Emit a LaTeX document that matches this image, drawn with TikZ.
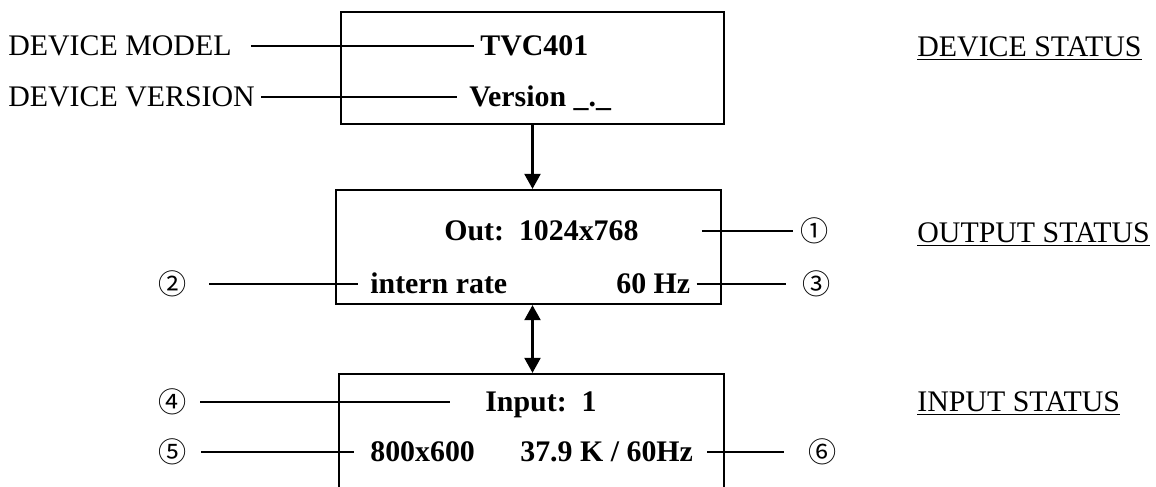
\documentclass[tikz,border=0pt]{standalone}
\usepackage{fontspec}
\setmainfont{Liberation Serif}
\newfontfamily\circfont{Noto Sans CJK SC}
\usetikzlibrary{arrows.meta}

\begin{document}
\begin{tikzpicture}[every node/.style={font=\fontsize{17}{20}\selectfont},
    bx/.style={draw, line width=1.3pt, minimum width=7.7cm},
    lbl/.style={anchor=west, inner sep=0.12cm, text height=0.39cm, text depth=0pt},
    val/.style={lbl, font=\fontsize{17}{20}\selectfont\bfseries},
    num/.style={font=\circfont\fontsize{16}{20}\selectfont, inner sep=0pt},
    ln/.style={line width=1.3pt},
    ar/.style={-{Triangle[length=0.3cm,width=0.32cm]}, line width=1.3pt},
    dar/.style={{Triangle[length=0.3cm,width=0.32cm]}-{Triangle[length=0.3cm,width=0.32cm]}, line width=1.3pt}]
  \useasboundingbox (0,0) rectangle (23.12,-9.72);
  \clip (0,0) rectangle (23.12,-9.72);
  % status boxes
  \node[bx, minimum width=7.66cm, minimum height=2.24cm] (devbox) at (10.65,-1.36) {};
  \node[bx, minimum height=2.28cm] (outbox) at (10.57,-4.94) {};
  \node[bx, minimum height=3.32cm] (inbox) at (10.63,-9.14) {};
  % texts
  \node[lbl] (lmodel) at (0.04,-0.92) {DEVICE MODEL};
  \node[lbl] (lver) at (0.04,-1.94) {DEVICE VERSION};
  \node[val] (model) at (9.48,-0.92) {TVC401};
  \node[val] (ver) at (9.26,-1.94) {Version \_.\_};
  \node[val] (out) at (8.76,-4.62) {Out:\ \ 1024x768};
  \node[val] (rate) at (7.28,-5.68) {intern rate};
  \node[val] (hz) at (12.2,-5.68) {60 Hz};
  \node[val] (inp) at (9.58,-8.04) {Input:\ \ 1};
  \node[val] (res) at (7.28,-9.04) {800x600};
  \node[val] (freq) at (10.28,-9.04) {37.9 K / 60Hz};
  \node[lbl] (sdev) at (18.22,-0.94) {\underline{DEVICE STATUS}};
  \node[lbl] (sout) at (18.22,-4.66) {\underline{OUTPUT STATUS}};
  \node[lbl] (sinp) at (18.22,-8.04) {\underline{INPUT STATUS}};
  % circled numbers
  \node[num] (n1) at (16.30,-4.62) {①};
  \node[num] (n2) at (3.46,-5.68) {②};
  \node[num] (n3) at (16.34,-5.68) {③};
  \node[num] (n4) at (3.46,-8.04) {④};
  \node[num] (n5) at (3.46,-9.04) {⑤};
  \node[num] (n6) at (16.46,-9.04) {⑥};
  % leader lines
  \draw[ln, shorten <=0.26cm] (lmodel.east) -- (model.west);
  \draw[ln, shorten >=0.12cm] (lver.east) -- (ver.west);
  \draw[ln, shorten <=1.14cm, shorten >=0.16cm] (out.east) -- (n1.west);
  \draw[ln, shorten <=0.44cm, shorten >=0.12cm] (n2.east) -- (rate.west);
  \draw[ln, shorten >=0.34cm] (hz.east) -- (n3.west);
  \draw[ln, shorten <=0.26cm, shorten >=0.58cm] (n4.east) -- (inp.west);
  \draw[ln, shorten <=0.28cm, shorten >=0.2cm] (n5.east) -- (res.west);
  \draw[ln, shorten <=0.16cm, shorten >=0.5cm] (freq.east) -- (n6.west);
  % arrows between boxes
  \draw[ar] (devbox.south) -- (devbox.south |- outbox.north);
  \draw[dar] (devbox.south |- outbox.south) -- (devbox.south |- inbox.north);
\end{tikzpicture}
\end{document}
